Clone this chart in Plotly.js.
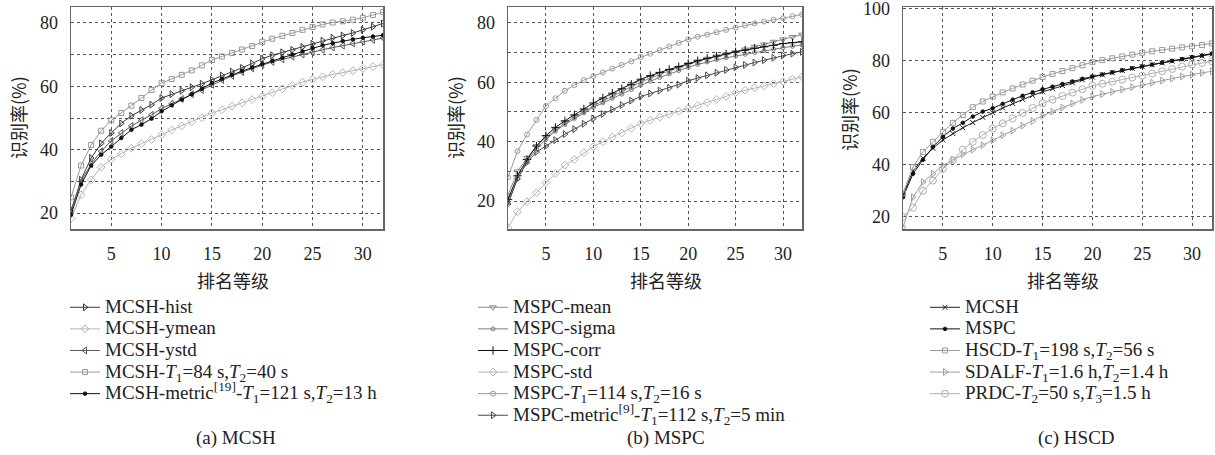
<!DOCTYPE html>
<html>
<head>
<meta charset="utf-8">
<script src="https://cdn.plot.ly/plotly-3.0.1.min.js"></script>
<style>html,body{margin:0;padding:0;background:#fff;}#chart{width:1215px;height:455px;}</style>
</head>
<body>
<div id="chart"></div>
<script>
// ---------- data ----------
const rank = Array.from({length: 32}, (_, i) => i + 1);
const xTickVals = [5, 10, 15, 20, 25, 30];

// (a) MCSH
const mcshHist   = [20.5,30.5,37.4,42,45.3,48.3,50.7,52.5,54.2,56.3,57.5,58.6,59.7,60.8,62,63.4,64.6,65.8,67.2,68.7,69.8,70.7,71.5,72.4,73.4,74.4,75.3,76,76.8,77.8,78.8,79.8];
const mcshYmean  = [18.3,25.8,30.5,34.5,37,38.7,40.5,41.9,43.2,44.7,46.2,47.5,48.8,50.1,51.6,52.6,53.7,54.8,55.8,56.8,58,59.2,60.3,61.3,62.2,63,63.7,64.3,64.9,65.6,66.2,66.8];
const mcshYstd   = [21,30,35.5,39.5,42.8,45.3,47.5,49.3,51,53,54.5,56,57.5,58.8,60.5,62,63.3,64.5,65.6,66.8,67.7,68.5,69.3,70,70.8,71.5,72.2,72.8,73.5,74.1,74.6,75.2];
const mcshT84    = [25,35,41.5,46,49.3,51.6,53.9,56.3,58.8,61,62.3,63.6,65,66.6,68.3,69.4,70.5,71.6,72.7,74,75,75.9,76.8,77.8,78.7,79.5,80.1,80.5,81,81.6,82.5,83.4];
const mcshMetric = [19.5,29,35,38.4,41,43.7,46.3,47.9,49.8,52.1,54,55.8,57.5,59.2,61,62.3,63.6,64.8,65.9,67,68,69,70,71,72.1,72.9,73.6,74.3,74.8,75.3,75.7,76.1];

// (b) MSPC
const mspcMean   = [22,30,34.5,38.5,41.5,44,46.3,48.3,50.2,52,53.7,55.3,56.9,58.5,60,61.4,62.7,63.8,64.9,66,67,67.9,68.7,69.4,70.1,71,71.9,72.7,73.6,74.4,75.2,76];
const mspcSigma  = [19.5,27.5,33.5,37.5,40.8,43.5,45.8,47.8,49.7,51.5,53,54.6,56,57.5,59,60.3,61.6,62.8,63.9,65,66,66.8,67.6,68.2,68.8,69.4,70,70.6,71.1,71.6,72.1,72.5];
const mspcCorr   = [20.5,28.5,34,38.5,42,44.8,47,49,51,53,54.7,56.3,57.8,59.3,61,62.2,63.3,64.3,65.2,66.3,67.2,68,68.8,69.5,70.2,70.8,71.4,71.9,72.4,73,73.3,73.6];
const mspcStd    = [11,16.4,19.8,22.8,26.2,29.3,32.1,34,36.3,38.3,40,41.5,42.9,44.5,46.1,47.2,48.2,49.2,50.2,51.2,52.2,53.2,54.2,55.2,56.5,57.3,58.1,58.8,59.5,60.2,61,61.8];
const mspcT114   = [28,36.8,42.4,47.3,52,54.6,57.1,59,60.7,62,63.3,64.6,65.8,67,68.5,69.6,70.8,72,73.2,74.4,75.3,76,76.8,77.6,78.4,79.1,79.8,80.4,81,81.5,82.2,82.8];
const mspcMetric = [19,27.5,33,36.5,38.5,40.5,42.5,44.2,46,47.8,49.3,50.8,52.3,53.8,55.2,56.2,57.2,58.1,59.2,60.5,61.4,62.3,63.2,64.1,65,65.8,66.6,67.4,68.2,69,69.6,70.2];

// (c) HSCD
const hMCSH  = [28.5,37.5,42.5,46.3,49.5,52,54.2,56.2,58.2,60,61.8,63.5,65.1,66.6,68,69.2,70.4,71.5,72.6,73.7,74.6,75.4,76.2,77,77.7,78.4,79.1,79.8,80.5,81.1,81.8,82.5];
const hMSPC  = [27.5,36.5,41.9,46.8,50.7,53.9,56.1,58.5,60.4,61.7,63.4,65,66.5,67.8,69,70,71,72,73,73.9,74.7,75.5,76.3,77.1,77.8,78.5,79.2,79.9,80.6,81.4,82,82.7];
const hHSCD  = [29,39.1,44.9,48.8,52.6,56.1,59.1,62.1,64.3,66.2,67.8,69.3,70.8,72.3,73.7,74.9,76,77.1,78.2,79.4,80.2,80.9,81.6,82.3,83,83.6,84.1,84.6,85.1,85.5,86,86.6];
const hSDALF = [16,27.5,33.3,36.5,39.7,41.9,44,45.8,47.5,49.4,51.3,53.1,55,56.8,58.8,60.4,62,63.5,64.9,66.2,67.1,68,68.9,69.8,70.7,71.5,72.3,73.1,73.9,74.6,75.3,75.9];
const hPRDC  = [20,23.5,30,33.9,38.4,41.7,45.8,48.8,51.4,53.9,55.9,57.8,59.9,61.8,63.6,65,66.4,67.7,69,70.3,71.1,71.9,72.7,73.5,74.2,75,75.9,76.8,77.7,78.5,79.1,79.7];

// names
const namesA = ['MCSH-hist','MCSH-ymean','MCSH-ystd','MCSH-<i>T</i><sub>1</sub>=84 s,<i>T</i><sub>2</sub>=40 s','MCSH-metric<sup>[19]</sup>-<i>T</i><sub>1</sub>=121 s,<i>T</i><sub>2</sub>=13 h'];
const namesB = ['MSPC-mean','MSPC-sigma','MSPC-corr','MSPC-std','MSPC-<i>T</i><sub>1</sub>=114 s,<i>T</i><sub>2</sub>=16 s','MSPC-metric<sup>[9]</sup>-<i>T</i><sub>1</sub>=112 s,<i>T</i><sub>2</sub>=5 min'];
const namesC = ['MCSH','MSPC','HSCD-<i>T</i><sub>1</sub>=198 s,<i>T</i><sub>2</sub>=56 s','SDALF-<i>T</i><sub>1</sub>=1.6 h,<i>T</i><sub>2</sub>=1.4 h','PRDC-<i>T</i><sub>2</sub>=50 s,<i>T</i><sub>3</sub>=1.5 h'];
const yTitle = '识别率(%)';
const xTitle = '排名等级';
const captions = ['(a) MCSH','(b) MSPC','(c) HSCD'];

// ---------- styling ----------
const W = 1215, H = 455;
const px = v => v / W;
const py = v => 1 - v / H;
const SERIF = 'Liberation Serif, Times New Roman, serif';
const CJK = 'Noto Sans CJK SC, sans-serif';
const big = s => '<span style="font-size:19px">' + s + '</span>';

function tr(y, name, color, symbol, size, ax, leg) {
  return {
    x: rank, y: y, name: big(name), type: 'scatter', mode: 'lines+markers',
    line: {color: color, width: 1},
    marker: {symbol: symbol, size: size, color: color, line: {color: color, width: 1}},
    xaxis: 'x' + ax, yaxis: 'y' + ax, legend: leg
  };
}

const data = [
  tr(mcshHist,   namesA[0], '#3a3a3a', 'triangle-right-open', 6, '', 'legend'),
  tr(mcshYmean,  namesA[1], '#b4b4b4', 'diamond-open', 6, '', 'legend'),
  tr(mcshYstd,   namesA[2], '#5a5a5a', 'triangle-left-open', 6, '', 'legend'),
  tr(mcshT84,    namesA[3], '#9a9a9a', 'square-open', 5, '', 'legend'),
  tr(mcshMetric, namesA[4], '#111111', 'circle', 3.5, '', 'legend'),

  tr(mspcMean,   namesB[0], '#8c8c8c', 'triangle-down-open', 6, '2', 'legend2'),
  tr(mspcSigma,  namesB[1], '#7a7a7a', 'circle-open', 4, '2', 'legend2'),
  tr(mspcCorr,   namesB[2], '#111111', 'cross-thin-open', 6, '2', 'legend2'),
  tr(mspcStd,    namesB[3], '#b4b4b4', 'diamond-open', 6, '2', 'legend2'),
  tr(mspcT114,   namesB[4], '#9a9a9a', 'circle-open', 5, '2', 'legend2'),
  tr(mspcMetric, namesB[5], '#4a4a4a', 'triangle-right-open', 6, '2', 'legend2'),

  tr(hMCSH,  namesC[0], '#222222', 'x-thin-open', 5, '3', 'legend3'),
  tr(hMSPC,  namesC[1], '#111111', 'circle', 3.5, '3', 'legend3'),
  tr(hHSCD,  namesC[2], '#9a9a9a', 'square-open', 5, '3', 'legend3'),
  tr(hSDALF, namesC[3], '#a0a0a0', 'triangle-right-open', 6, '3', 'legend3'),
  tr(hPRDC,  namesC[4], '#b0b0b0', 'circle-open', 7, '3', 'legend3')
];

const GRID = '#555';
const TICKFONT = {family: SERIF, size: 18, color: '#222'};
function xa(l, r, anchor) {
  return {
    domain: [px(l), px(r)], range: [1, 32], tickvals: xTickVals, anchor: anchor,
    showgrid: true, gridcolor: GRID, griddash: 'dot', gridwidth: 1,
    showline: true, mirror: true, linecolor: '#666', linewidth: 1.5,
    ticks: '', zeroline: false, ticklabelstandoff: 8, ticklabeloverflow: 'allow',
    tickfont: TICKFONT
  };
}
function ya(range, minorDt, anchor) {
  const o = {
    domain: [py(229), py(7)], range: range, dtick: 20, tick0: 0, anchor: anchor,
    showgrid: true, gridcolor: GRID, griddash: 'dot', gridwidth: 1,
    showline: true, mirror: true, linecolor: '#666', linewidth: 1.5,
    ticks: '', zeroline: false, ticklabelstandoff: 8, ticklabeloverflow: 'allow',
    tickfont: TICKFONT
  };
  if (minorDt) o.minor = {dtick: minorDt, tick0: 0, showgrid: true, gridcolor: GRID, griddash: 'dot', gridwidth: 1, ticks: ''};
  return o;
}
function leg(x, y) {
  return {x: px(x), xanchor: 'left', y: py(y), yanchor: 'top', bgcolor: 'rgba(0,0,0,0)',
    borderwidth: 0, tracegroupgap: 0, itemwidth: 30,
    font: {family: SERIF, size: 14.3, color: '#222'}};
}
function ann(text, x, y, opts) {
  return Object.assign({text: text, x: px(x), y: py(y), xref: 'paper', yref: 'paper',
    showarrow: false, xanchor: 'center', yanchor: 'middle',
    font: {family: CJK, size: 18, color: '#222'}}, opts || {});
}
const capFont = {family: SERIF, size: 19, color: '#222'};

const layout = {
  width: W, height: H, margin: {l: 0, r: 0, t: 0, b: 0},
  paper_bgcolor: '#fff', plot_bgcolor: '#fff', showlegend: true,
  xaxis: xa(71, 383, 'y'), yaxis: ya([15, 85], 10, 'x'),
  xaxis2: xa(508, 802, 'y2'), yaxis2: ya([10.6, 85.3], 10, 'x2'),
  xaxis3: xa(903, 1212, 'y3'), yaxis3: ya([15.3, 100.6], null, 'x3'),
  legend: leg(65, 291.5), legend2: leg(473, 291.5), legend3: leg(925, 291.5),
  annotations: [
    ann(yTitle, 18, 118, {textangle: -90}),
    ann(yTitle, 455, 118, {textangle: -90}),
    ann(yTitle, 849, 110, {textangle: -90}),
    ann(xTitle, 233, 280), ann(xTitle, 666, 280), ann(xTitle, 1063, 280),
    ann(captions[0], 236, 438, {font: capFont}),
    ann(captions[1], 666, 438, {font: capFont}),
    ann(captions[2], 1076, 438, {font: capFont})
  ]
};

Plotly.newPlot('chart', data, layout, {staticPlot: true, displayModeBar: false});
</script>
</body>
</html>
